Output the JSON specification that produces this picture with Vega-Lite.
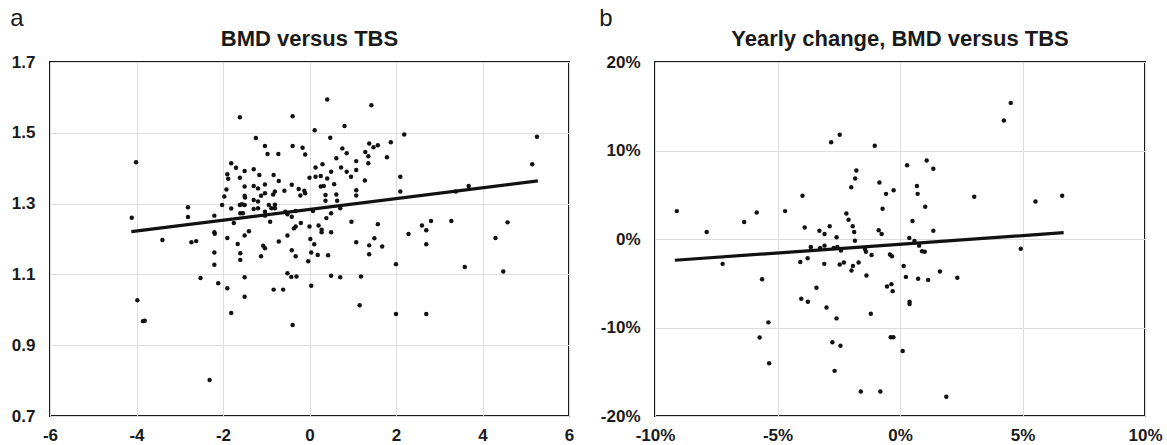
{
  "$schema": "https://vega.github.io/schema/vega-lite/v6.json",
  "padding": {"left": 10, "top": 7, "right": 5, "bottom": 0},
  "background": "white",
  "spacing": 24,
  "config": {
    "font": "Liberation Sans",
    "view": {"stroke": "#1a1a1a", "strokeWidth": 2},
    "axis": {"grid": true, "gridColor": "#dddddd", "gridWidth": 1, "domain": false, "ticks": false, "labelFlush": false, "labelFont": "Liberation Sans", "labelFontSize": 17, "labelFontWeight": "bold", "labelColor": "#1a1a1a", "title": null},
    "axisX": {"labelPadding": 11},
    "axisY": {"labelPadding": 15},
    "concat": {"spacing": 0}
  },
  "datasets": {
    "bmd": [
      {"tbs": -4.11, "bmd": 1.26}, {"tbs": -4.01, "bmd": 1.417}, {"tbs": -3.98, "bmd": 1.027}, {"tbs": -3.85, "bmd": 0.968}, {"tbs": -3.81, "bmd": 0.969},
      {"tbs": -3.40, "bmd": 1.197}, {"tbs": -2.81, "bmd": 1.29}, {"tbs": -2.81, "bmd": 1.262}, {"tbs": -2.73, "bmd": 1.191}, {"tbs": -2.62, "bmd": 1.194},
      {"tbs": -2.52, "bmd": 1.09}, {"tbs": -2.31, "bmd": 0.802}, {"tbs": -2.20, "bmd": 1.266}, {"tbs": -2.20, "bmd": 1.219}, {"tbs": -2.19, "bmd": 1.215},
      {"tbs": -2.20, "bmd": 1.162}, {"tbs": -2.20, "bmd": 1.127}, {"tbs": -2.11, "bmd": 1.075}, {"tbs": -2.02, "bmd": 1.296}, {"tbs": -1.97, "bmd": 1.32},
      {"tbs": -1.92, "bmd": 1.34}, {"tbs": -1.90, "bmd": 1.383}, {"tbs": -1.88, "bmd": 1.37}, {"tbs": -1.90, "bmd": 1.203}, {"tbs": -1.90, "bmd": 1.061},
      {"tbs": -1.81, "bmd": 1.414}, {"tbs": -1.81, "bmd": 1.286}, {"tbs": -1.81, "bmd": 0.991}, {"tbs": -1.75, "bmd": 1.245}, {"tbs": -1.70, "bmd": 1.401},
      {"tbs": -1.66, "bmd": 1.186}, {"tbs": -1.61, "bmd": 1.544}, {"tbs": -1.61, "bmd": 1.373}, {"tbs": -1.61, "bmd": 1.296}, {"tbs": -1.56, "bmd": 1.298},
      {"tbs": -1.60, "bmd": 1.273}, {"tbs": -1.60, "bmd": 1.16}, {"tbs": -1.60, "bmd": 1.141}, {"tbs": -1.50, "bmd": 1.392}, {"tbs": -1.50, "bmd": 1.348},
      {"tbs": -1.50, "bmd": 1.322}, {"tbs": -1.49, "bmd": 1.317}, {"tbs": -1.50, "bmd": 1.296}, {"tbs": -1.54, "bmd": 1.273}, {"tbs": -1.50, "bmd": 1.21},
      {"tbs": -1.50, "bmd": 1.092}, {"tbs": -1.50, "bmd": 1.037}, {"tbs": -1.40, "bmd": 1.222}, {"tbs": -1.29, "bmd": 1.397}, {"tbs": -1.29, "bmd": 1.35},
      {"tbs": -1.29, "bmd": 1.31}, {"tbs": -1.29, "bmd": 1.285}, {"tbs": -1.24, "bmd": 1.485}, {"tbs": -1.19, "bmd": 1.343}, {"tbs": -1.19, "bmd": 1.306},
      {"tbs": -1.19, "bmd": 1.287}, {"tbs": -1.16, "bmd": 1.381}, {"tbs": -1.12, "bmd": 1.322}, {"tbs": -1.12, "bmd": 1.151}, {"tbs": -1.07, "bmd": 1.181},
      {"tbs": -1.03, "bmd": 1.174}, {"tbs": -1.03, "bmd": 1.463}, {"tbs": -1.03, "bmd": 1.354}, {"tbs": -1.03, "bmd": 1.329}, {"tbs": -1.03, "bmd": 1.277},
      {"tbs": -1.03, "bmd": 1.266}, {"tbs": -0.97, "bmd": 1.44}, {"tbs": -0.94, "bmd": 1.296}, {"tbs": -0.91, "bmd": 1.249}, {"tbs": -0.88, "bmd": 1.287},
      {"tbs": -0.84, "bmd": 1.326}, {"tbs": -0.83, "bmd": 1.057}, {"tbs": -0.83, "bmd": 1.381}, {"tbs": -0.80, "bmd": 1.334}, {"tbs": -0.80, "bmd": 1.297},
      {"tbs": -0.80, "bmd": 1.287}, {"tbs": -0.72, "bmd": 1.44}, {"tbs": -0.71, "bmd": 1.364}, {"tbs": -0.71, "bmd": 1.193}, {"tbs": -0.61, "bmd": 1.057},
      {"tbs": -0.58, "bmd": 1.336}, {"tbs": -0.56, "bmd": 1.277}, {"tbs": -0.51, "bmd": 1.27}, {"tbs": -0.51, "bmd": 1.21}, {"tbs": -0.51, "bmd": 1.103},
      {"tbs": -0.42, "bmd": 1.093}, {"tbs": -0.41, "bmd": 1.353}, {"tbs": -0.39, "bmd": 1.547}, {"tbs": -0.39, "bmd": 1.463}, {"tbs": -0.41, "bmd": 1.263},
      {"tbs": -0.41, "bmd": 1.168}, {"tbs": -0.39, "bmd": 0.957}, {"tbs": -0.36, "bmd": 1.23}, {"tbs": -0.32, "bmd": 1.279}, {"tbs": -0.32, "bmd": 1.235},
      {"tbs": -0.32, "bmd": 1.151}, {"tbs": -0.30, "bmd": 1.094}, {"tbs": -0.25, "bmd": 1.341}, {"tbs": -0.21, "bmd": 1.323}, {"tbs": -0.20, "bmd": 1.245},
      {"tbs": -0.16, "bmd": 1.458}, {"tbs": -0.12, "bmd": 1.336}, {"tbs": -0.10, "bmd": 1.439}, {"tbs": -0.10, "bmd": 1.329}, {"tbs": -0.03, "bmd": 1.137},
      {"tbs": 0.0, "bmd": 1.373}, {"tbs": 0.0, "bmd": 1.235}, {"tbs": 0.02, "bmd": 1.2}, {"tbs": 0.04, "bmd": 1.162}, {"tbs": 0.04, "bmd": 1.068},
      {"tbs": 0.08, "bmd": 1.279}, {"tbs": 0.11, "bmd": 1.185}, {"tbs": 0.12, "bmd": 1.507}, {"tbs": 0.14, "bmd": 1.402}, {"tbs": 0.14, "bmd": 1.376},
      {"tbs": 0.19, "bmd": 1.155}, {"tbs": 0.21, "bmd": 1.238}, {"tbs": 0.26, "bmd": 1.378}, {"tbs": 0.26, "bmd": 1.348}, {"tbs": 0.28, "bmd": 1.226},
      {"tbs": 0.28, "bmd": 1.219}, {"tbs": 0.30, "bmd": 1.411}, {"tbs": 0.33, "bmd": 1.35}, {"tbs": 0.37, "bmd": 1.324}, {"tbs": 0.37, "bmd": 1.308},
      {"tbs": 0.39, "bmd": 1.259}, {"tbs": 0.41, "bmd": 1.594}, {"tbs": 0.41, "bmd": 1.371}, {"tbs": 0.43, "bmd": 1.154}, {"tbs": 0.48, "bmd": 1.486},
      {"tbs": 0.50, "bmd": 1.39}, {"tbs": 0.50, "bmd": 1.273}, {"tbs": 0.50, "bmd": 1.219}, {"tbs": 0.50, "bmd": 1.096}, {"tbs": 0.57, "bmd": 1.355},
      {"tbs": 0.62, "bmd": 1.428}, {"tbs": 0.62, "bmd": 1.326}, {"tbs": 0.64, "bmd": 1.308}, {"tbs": 0.71, "bmd": 1.287}, {"tbs": 0.71, "bmd": 1.092},
      {"tbs": 0.73, "bmd": 1.402}, {"tbs": 0.76, "bmd": 1.456}, {"tbs": 0.81, "bmd": 1.519}, {"tbs": 0.86, "bmd": 1.442}, {"tbs": 0.86, "bmd": 1.39},
      {"tbs": 0.96, "bmd": 1.376}, {"tbs": 0.97, "bmd": 1.249}, {"tbs": 1.08, "bmd": 1.42}, {"tbs": 1.08, "bmd": 1.395}, {"tbs": 1.08, "bmd": 1.338},
      {"tbs": 1.08, "bmd": 1.323}, {"tbs": 1.08, "bmd": 1.191}, {"tbs": 1.16, "bmd": 1.013}, {"tbs": 1.19, "bmd": 1.094}, {"tbs": 1.28, "bmd": 1.365},
      {"tbs": 1.29, "bmd": 1.446}, {"tbs": 1.36, "bmd": 1.434}, {"tbs": 1.36, "bmd": 1.414}, {"tbs": 1.38, "bmd": 1.47}, {"tbs": 1.38, "bmd": 1.182},
      {"tbs": 1.38, "bmd": 1.157}, {"tbs": 1.43, "bmd": 1.578}, {"tbs": 1.48, "bmd": 1.459}, {"tbs": 1.50, "bmd": 1.202}, {"tbs": 1.58, "bmd": 1.465},
      {"tbs": 1.58, "bmd": 1.242}, {"tbs": 1.68, "bmd": 1.179}, {"tbs": 1.79, "bmd": 1.431}, {"tbs": 1.88, "bmd": 1.473}, {"tbs": 2.0, "bmd": 1.129},
      {"tbs": 2.0, "bmd": 0.988}, {"tbs": 2.10, "bmd": 1.376}, {"tbs": 2.10, "bmd": 1.334}, {"tbs": 2.19, "bmd": 1.495}, {"tbs": 2.29, "bmd": 1.214},
      {"tbs": 2.60, "bmd": 1.238}, {"tbs": 2.70, "bmd": 1.225}, {"tbs": 2.70, "bmd": 1.185}, {"tbs": 2.70, "bmd": 0.988}, {"tbs": 2.81, "bmd": 1.251},
      {"tbs": 3.28, "bmd": 1.251}, {"tbs": 3.38, "bmd": 1.334}, {"tbs": 3.59, "bmd": 1.121}, {"tbs": 3.68, "bmd": 1.35}, {"tbs": 4.30, "bmd": 1.203},
      {"tbs": 4.48, "bmd": 1.108}, {"tbs": 4.58, "bmd": 1.247}, {"tbs": 5.15, "bmd": 1.411}, {"tbs": 5.26, "bmd": 1.489}
    ],
    "bmdFit": [{"tbs": -4.12, "bmd": 1.221}, {"tbs": 5.28, "bmd": 1.364}],
    "change": [
      {"dtbs": -9.11, "dbmd": 3.15}, {"dtbs": -7.89, "dbmd": 0.79}, {"dtbs": -7.24, "dbmd": -2.81}, {"dtbs": -6.36, "dbmd": 1.91}, {"dtbs": -5.85, "dbmd": 3.0},
      {"dtbs": -5.73, "dbmd": -11.14}, {"dtbs": -5.63, "dbmd": -4.54}, {"dtbs": -5.37, "dbmd": -9.42}, {"dtbs": -5.34, "dbmd": -14.03}, {"dtbs": -4.69, "dbmd": 3.15},
      {"dtbs": -4.07, "dbmd": -2.59}, {"dtbs": -4.03, "dbmd": -6.75}, {"dtbs": -3.98, "dbmd": 4.88}, {"dtbs": -3.89, "dbmd": 1.31}, {"dtbs": -3.77, "dbmd": -2.18},
      {"dtbs": -3.76, "dbmd": -7.09}, {"dtbs": -3.64, "dbmd": -0.9}, {"dtbs": -3.41, "dbmd": -5.52}, {"dtbs": -3.29, "dbmd": 0.94}, {"dtbs": -3.26, "dbmd": -1.01},
      {"dtbs": -3.09, "dbmd": -2.81}, {"dtbs": -3.08, "dbmd": 0.56}, {"dtbs": -3.08, "dbmd": -0.75}, {"dtbs": -3.0, "dbmd": -7.73}, {"dtbs": -2.87, "dbmd": 1.43},
      {"dtbs": -2.81, "dbmd": 10.92}, {"dtbs": -2.76, "dbmd": -11.67}, {"dtbs": -2.71, "dbmd": -1.01}, {"dtbs": -2.67, "dbmd": -14.9}, {"dtbs": -2.59, "dbmd": 0.19},
      {"dtbs": -2.59, "dbmd": -8.97}, {"dtbs": -2.56, "dbmd": -0.9}, {"dtbs": -2.46, "dbmd": 11.78}, {"dtbs": -2.46, "dbmd": -2.89}, {"dtbs": -2.43, "dbmd": -12.05},
      {"dtbs": -2.41, "dbmd": -1.31}, {"dtbs": -2.29, "dbmd": -2.66}, {"dtbs": -2.19, "dbmd": 2.89}, {"dtbs": -2.10, "dbmd": 2.18}, {"dtbs": -1.99, "dbmd": 5.85},
      {"dtbs": -1.98, "dbmd": -3.56}, {"dtbs": -1.93, "dbmd": 1.43}, {"dtbs": -1.92, "dbmd": -3.04}, {"dtbs": -1.87, "dbmd": 0.79}, {"dtbs": -1.84, "dbmd": -0.19},
      {"dtbs": -1.83, "dbmd": 6.83}, {"dtbs": -1.78, "dbmd": 7.73}, {"dtbs": -1.69, "dbmd": -2.66}, {"dtbs": -1.60, "dbmd": -17.22}, {"dtbs": -1.43, "dbmd": -1.13},
      {"dtbs": -1.39, "dbmd": -1.43}, {"dtbs": -1.37, "dbmd": -4.13}, {"dtbs": -1.19, "dbmd": -8.44}, {"dtbs": -1.16, "dbmd": -1.80}, {"dtbs": -1.03, "dbmd": 10.54},
      {"dtbs": -0.87, "dbmd": 0.98}, {"dtbs": -0.84, "dbmd": 6.38}, {"dtbs": -0.80, "dbmd": -17.22}, {"dtbs": -0.75, "dbmd": 0.56}, {"dtbs": -0.71, "dbmd": 3.41},
      {"dtbs": -0.57, "dbmd": 5.10}, {"dtbs": -0.53, "dbmd": -5.37}, {"dtbs": -0.41, "dbmd": -1.76}, {"dtbs": -0.38, "dbmd": -11.11}, {"dtbs": -0.27, "dbmd": -11.11},
      {"dtbs": -0.35, "dbmd": -5.10}, {"dtbs": -0.33, "dbmd": -1.95}, {"dtbs": -0.30, "dbmd": -5.89}, {"dtbs": -0.26, "dbmd": 5.52}, {"dtbs": 0.11, "dbmd": -12.65},
      {"dtbs": 0.15, "dbmd": -3.04}, {"dtbs": 0.24, "dbmd": -4.28}, {"dtbs": 0.29, "dbmd": 8.33}, {"dtbs": 0.38, "dbmd": 0.11}, {"dtbs": 0.39, "dbmd": -7.09},
      {"dtbs": 0.39, "dbmd": -7.35}, {"dtbs": 0.51, "dbmd": 2.03}, {"dtbs": 0.59, "dbmd": -0.23}, {"dtbs": 0.69, "dbmd": 6.0}, {"dtbs": 0.72, "dbmd": 5.10},
      {"dtbs": 0.74, "dbmd": -4.50}, {"dtbs": 0.78, "dbmd": -0.75}, {"dtbs": 0.90, "dbmd": -1.39}, {"dtbs": 1.01, "dbmd": -1.43}, {"dtbs": 1.03, "dbmd": 3.64},
      {"dtbs": 1.09, "dbmd": 8.86}, {"dtbs": 1.15, "dbmd": -4.62}, {"dtbs": 1.36, "dbmd": 7.95}, {"dtbs": 1.36, "dbmd": 0.94}, {"dtbs": 1.63, "dbmd": -3.68},
      {"dtbs": 1.89, "dbmd": -17.82}, {"dtbs": 2.34, "dbmd": -4.39}, {"dtbs": 3.03, "dbmd": 4.77}, {"dtbs": 4.24, "dbmd": 13.4}, {"dtbs": 4.52, "dbmd": 15.38},
      {"dtbs": 4.93, "dbmd": -1.09}, {"dtbs": 5.53, "dbmd": 4.24}, {"dtbs": 6.62, "dbmd": 4.88}
    ],
    "changeFit": [{"dtbs": -9.19, "dbmd": -2.4}, {"dtbs": 6.68, "dbmd": 0.71}]
  },
  "hconcat": [
    {
      "title": {"text": "a", "anchor": "start", "fontSize": 24, "fontWeight": "normal", "color": "#1a1a1a", "offset": -4},
      "vconcat": [
        {
          "title": {"text": "BMD versus TBS", "fontSize": 22, "fontWeight": "bold", "color": "#1a1a1a", "offset": 2},
          "width": 519,
          "height": 354,
          "layer": [
            {
              "data": {"name": "bmd"},
              "mark": {"type": "circle", "size": 20, "color": "#111111", "opacity": 1},
              "encoding": {
                "x": {"field": "tbs", "type": "quantitative", "scale": {"domain": [-6, 6], "nice": false}, "axis": {"values": [-6, -4, -2, 0, 2, 4, 6], "labelExpr": "replace(datum.label, '\u2212', '-')"}},
                "y": {"field": "bmd", "type": "quantitative", "scale": {"domain": [0.7, 1.7], "nice": false, "zero": false}, "axis": {"values": [0.7, 0.9, 1.1, 1.3, 1.5, 1.7], "format": ".1f"}}
              }
            },
            {
              "data": {"name": "bmdFit"},
              "mark": {"type": "line", "color": "#111111", "strokeWidth": 3.2},
              "encoding": {
                "x": {"field": "tbs", "type": "quantitative"},
                "y": {"field": "bmd", "type": "quantitative"}
              }
            }
          ]
        }
      ]
    },
    {
      "title": {"text": "b", "anchor": "start", "fontSize": 24, "fontWeight": "normal", "color": "#1a1a1a", "offset": -4},
      "vconcat": [
        {
          "title": {"text": "Yearly change, BMD versus TBS", "fontSize": 22, "fontWeight": "bold", "color": "#1a1a1a", "offset": 2},
          "width": 490,
          "height": 354,
          "layer": [
            {
              "data": {"name": "change"},
              "mark": {"type": "circle", "size": 20, "color": "#111111", "opacity": 1},
              "encoding": {
                "x": {"field": "dtbs", "type": "quantitative", "scale": {"domain": [-10, 10], "nice": false}, "axis": {"values": [-10, -5, 0, 5, 10], "labelExpr": "replace(datum.label, '\u2212', '-') + '%'"}},
                "y": {"field": "dbmd", "type": "quantitative", "scale": {"domain": [-20, 20], "nice": false}, "axis": {"values": [-20, -10, 0, 10, 20], "labelExpr": "replace(datum.label, '\u2212', '-') + '%'"}}
              }
            },
            {
              "data": {"name": "changeFit"},
              "mark": {"type": "line", "color": "#111111", "strokeWidth": 3.2},
              "encoding": {
                "x": {"field": "dtbs", "type": "quantitative"},
                "y": {"field": "dbmd", "type": "quantitative"}
              }
            }
          ]
        }
      ]
    }
  ]
}
